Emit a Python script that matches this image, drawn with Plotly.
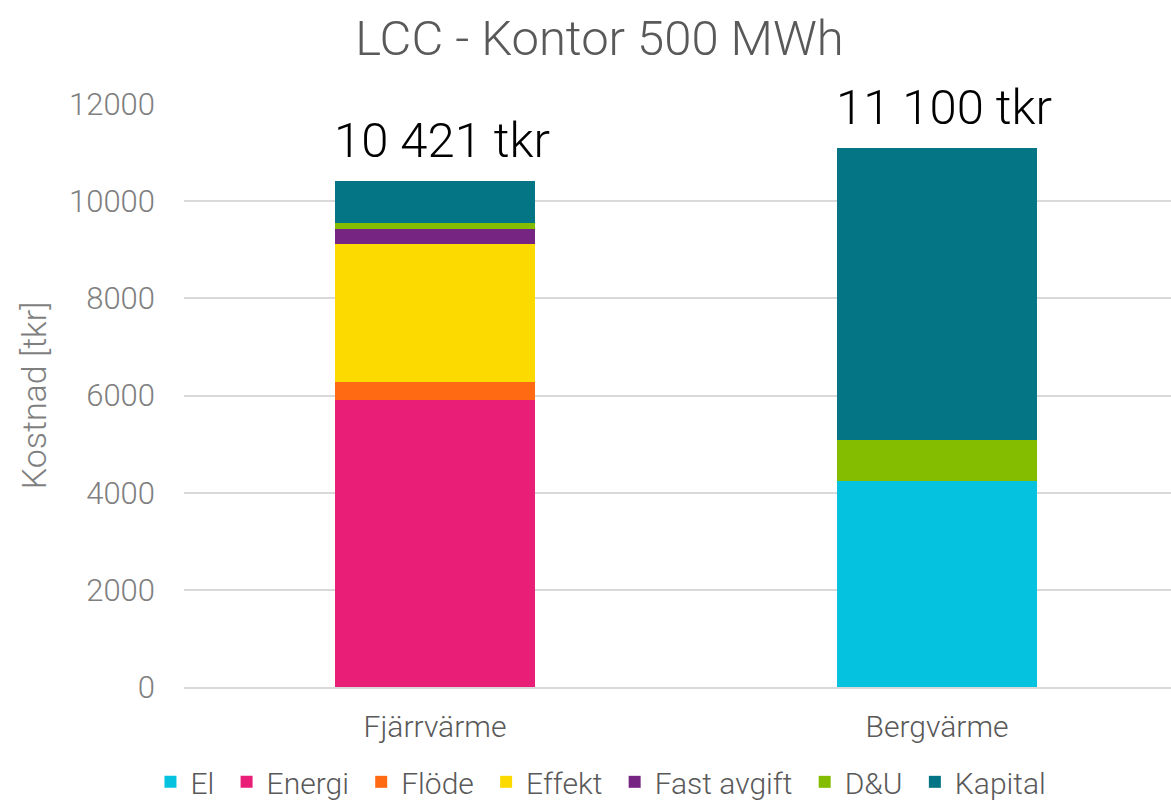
import plotly.graph_objects as go

categories = ["Fjärrvärme", "Bergvärme"]
series_names = ["El", "Energi", "Flöde", "Effekt", "Fast avgift", "D&U", "Kapital"]
el = [0, 4246]
energi = [5906, 0]
flode = [370, 0]
effekt = [2846, 0]
fast_avgift = [296, 0]
du = [136, 837]
kapital = [867, 6017]
y_ticks = [0, 2000, 4000, 6000, 8000, 10000, 12000]
y_tick_labels = ["0", "2000", "4000", "6000", "8000", "10000", "12000"]

colors = ["#05C3DE", "#E91E77", "#FF6A13", "#FCDA00", "#772583", "#84BD00", "#047584"]
values = [el, energi, flode, effekt, fast_avgift, du, kapital]

FONT = "Roboto"
fig = go.Figure()
for name, vals, col in zip(series_names, values, colors):
    fig.add_trace(go.Bar(
        name=name + "\u00a0", x=categories, y=vals, marker=dict(color=col, line=dict(width=0)),
        width=0.4,
    ))

totals = [sum(v[i] for v in values) for i in range(len(categories))]
for cat, tot in zip(categories, totals):
    fig.add_annotation(
        x=cat, y=tot, text=f"{tot:,}".replace(",", " ") + " tkr",
        showarrow=False, yanchor="bottom", yshift=10, xshift=7,
        font=dict(family=FONT, size=49, color="#000000", weight=300),
    )

fig.update_layout(
    barmode="stack",
    width=1171, height=806,
    margin=dict(l=184, r=0, t=104, b=119),
    plot_bgcolor="white", paper_bgcolor="white",
    title=dict(text="LCC - Kontor 500 MWh", x=0.512, xref="container", xanchor="center",
               y=0.953, yanchor="middle",
               font=dict(family=FONT, size=49, color="#595959", weight=300)),
    font=dict(family=FONT, color="#7f7f7f", weight=300),
    bargap=0.6,
    legend=dict(orientation="h", x=0.426, xanchor="center",
                yref="container", y=0.03, yanchor="middle",
                font=dict(family=FONT, size=30, color="#595959", weight=300),
                itemwidth=30, tracegroupgap=0, traceorder="normal"),
    xaxis=dict(range=[-0.5, 1.466], showgrid=False, showline=True, linecolor="#d9d9d9", linewidth=2,
               tickfont=dict(family=FONT, size=30, color="#595959", weight=300),
               ticks="outside", ticklen=0, ticklabelstandoff=12, automargin=False),
    yaxis=dict(range=[0, 12000], tickvals=y_ticks, ticktext=y_tick_labels,
               showgrid=True, gridcolor="#d9d9d9", gridwidth=2,
               zeroline=False, showline=False, automargin=False,
               tickfont=dict(family=FONT, size=31, color="#7f7f7f", weight=300),
               ticklabelstandoff=28,
               title=dict(text="Kostnad [tkr]", standoff=12,
                          font=dict(family=FONT, size=34, color="#7f7f7f", weight=300))),
)

post = (
    "document.documentElement.style.margin='0';"
    "document.body.style.margin='0';document.body.style.overflow='hidden';"
    "var gd=document.getElementById('{plot_id}');"
    "Plotly.relayout(gd,{width:1171,height:806});"
)
fig.write_html("out.html", post_script=post,
               config={"displayModeBar": False, "responsive": False})
